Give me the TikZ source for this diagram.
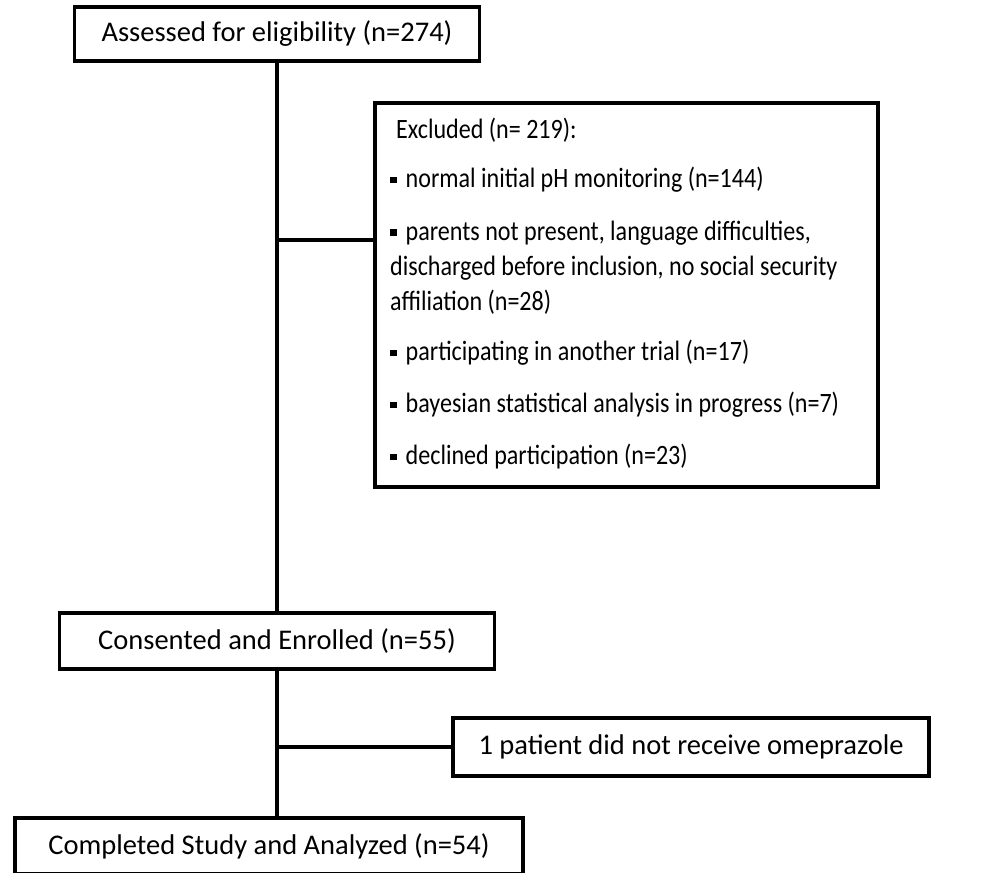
\documentclass[tikz,border=0pt]{standalone}
\usepackage{fontspec}
\setmainfont{Carlito}
\newfontfamily\condfont[FakeStretch=0.86]{Carlito}
\newcommand\sqbul{\rule[4.5pt]{6.5pt}{6.5pt}\hspace{9pt}}
\begin{document}
\begin{tikzpicture}[x=1pt,y=-1pt,
  box/.style={draw, line width=3.2pt, inner sep=0pt, font=\fontsize{28.5}{34}\selectfont},
  txt/.style={anchor=west, inner sep=0pt, font=\condfont\fontsize{28}{34}\selectfont},
  link/.style={line width=3.2pt}]
\useasboundingbox (0,0) rectangle (992,872);
\clip (0,0) rectangle (992,872);
\node[box, minimum width=405pt, minimum height=54pt] (assess) at (277,34) {Assessed for eligibility (n=274)};
\node[box, minimum width=503pt, minimum height=384pt] (excl) at (626.5,295) {};
\node[box, minimum width=435pt, minimum height=56pt] (cons) at (277,641) {Consented and Enrolled (n=55)};
\node[box, minimum width=476pt, minimum height=58pt] (omep) at (691,747) {1 patient did not receive omeprazole};
\node[box, minimum width=508pt, minimum height=56pt] (comp) at (269,846) {Completed Study and Analyzed (n=54)};
% excluded list
\node[txt] (e0) at (396,130) {Excluded (n= 219):};
\node[txt] (e1) at (390,180) {\sqbul normal initial pH monitoring (n=144)};
\node[txt] (e2) at (390,233) {\sqbul parents not present, language difficulties,};
\node[txt] (e3) at (390,268) {discharged before inclusion, no social security};
\node[txt] (e4) at (390,302) {affiliation (n=28)};
\node[txt] (e5) at (390,353) {\sqbul participating in another trial (n=17)};
\node[txt] (e6) at (390,405) {\sqbul bayesian statistical analysis in progress (n=7)};
\node[txt] (e7) at (390,457) {\sqbul declined participation (n=23)};
% connectors
\coordinate (j1) at (277,240);
\draw[link] (assess.south) -- (cons.north);
\draw[link] (j1) -- (j1 -| excl.west);
\draw[link] (cons.south) -- (cons.south |- comp.north);
\draw[link] (cons.south |- omep.west) -- (omep.west);
\end{tikzpicture}
\end{document}
